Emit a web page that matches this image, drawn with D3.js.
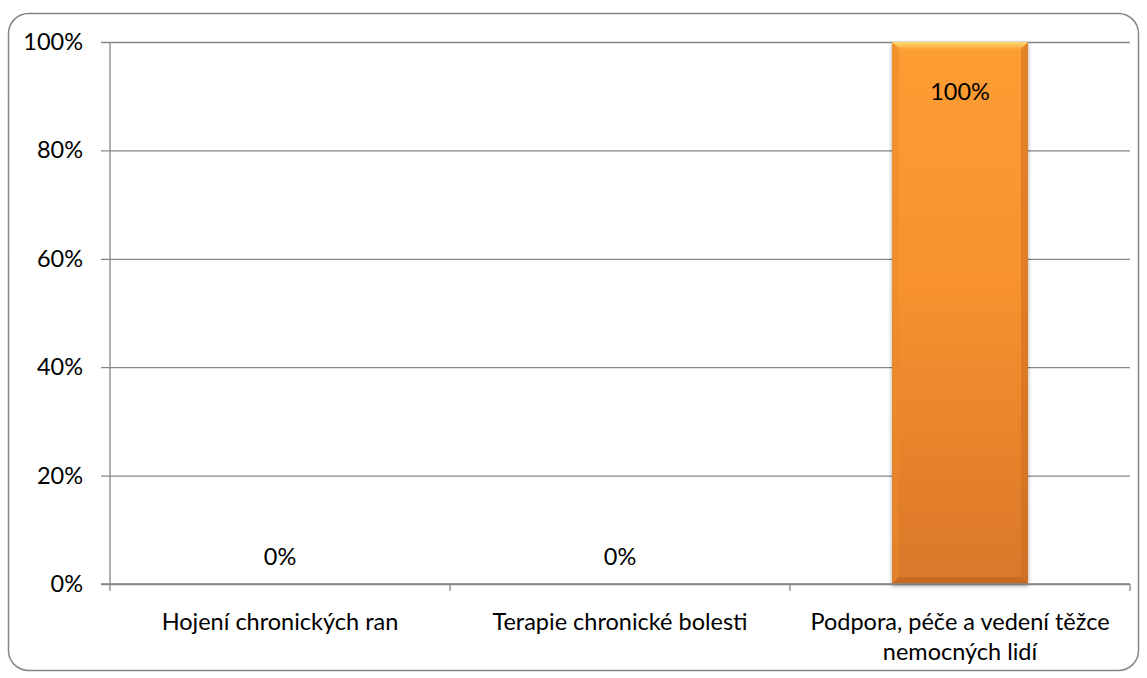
<!DOCTYPE html>
<html>
<head>
<meta charset="utf-8">
<script src="https://cdn.jsdelivr.net/npm/d3@7"></script>
<style>
  html, body { margin: 0; padding: 0; background: #fff; }
  svg { display: block; }
  text { font-family: Lato, "Open Sans", "Liberation Sans", sans-serif; fill: #000; }
</style>
</head>
<body>
<svg id="chart" width="1147" height="678"></svg>
<script>
// Categories and their shares
const categories = [
  ["Hojení chronických ran"],
  ["Terapie chronické bolesti"],
  ["Podpora, péče a vedení těžce", "nemocných lidí"]
];
const values = [0, 0, 1];
const yTicks = [0, 0.2, 0.4, 0.6, 0.8, 1];

const FS = 23.5;
const svg = d3.select("#chart");
const plot = { left: 110, right: 1130, top: 42, bottom: 584 };

// Outer chart frame
svg.append("rect")
  .attr("x", 8.5).attr("y", 13.5)
  .attr("width", 1130).attr("height", 657)
  .attr("rx", 20).attr("ry", 20)
  .attr("fill", "#fff").attr("stroke", "#868686").attr("stroke-width", 1.5);

const x = d3.scaleBand().domain(d3.range(categories.length))
  .range([plot.left, plot.right]).paddingInner(0.6).paddingOuter(0.3);
const xEdge = d3.scaleLinear().domain([0, categories.length]).range([plot.left, plot.right]);
const y = d3.scaleLinear().domain([0, 1]).range([plot.bottom, plot.top]);

const defs = svg.append("defs");
const grad = defs.append("linearGradient").attr("id", "barFill")
  .attr("x1", 0).attr("y1", 0).attr("x2", 0).attr("y2", 1);
grad.append("stop").attr("offset", "0%").attr("stop-color", "#FD9D32");
grad.append("stop").attr("offset", "45%").attr("stop-color", "#F7922E");
grad.append("stop").attr("offset", "100%").attr("stop-color", "#DA772A");

const topGrad = defs.append("linearGradient").attr("id", "topBevel")
  .attr("x1", 0).attr("y1", 0).attr("x2", 0).attr("y2", 1);
topGrad.append("stop").attr("offset", "0%").attr("stop-color", "#FFE07A");
topGrad.append("stop").attr("offset", "100%").attr("stop-color", "#FBA53C");

const shadow = defs.append("filter").attr("id", "barShadow")
  .attr("x", "-10%").attr("y", "-5%").attr("width", "120%").attr("height", "110%");
shadow.append("feDropShadow").attr("dx", 0).attr("dy", 2).attr("stdDeviation", 2)
  .attr("flood-color", "#000").attr("flood-opacity", 0.35);

// Horizontal gridlines with outward ticks
const yAxis = d3.axisLeft(y).tickValues(yTicks)
  .tickFormat(d3.format(".0%"))
  .tickSize(-(plot.right - plot.left)).tickPadding(27);
const gy = svg.append("g").attr("transform", `translate(${plot.left},0)`).call(yAxis);
gy.select(".domain").remove();
gy.selectAll(".tick line").attr("stroke", "#868686").attr("stroke-width", 1.3)
  .attr("x1", -9);
gy.selectAll(".tick text").attr("font-size", FS)
  .style("font-family", "Lato, 'Open Sans', sans-serif");

// Vertical axis line
svg.append("line")
  .attr("x1", plot.left).attr("x2", plot.left)
  .attr("y1", plot.top).attr("y2", plot.bottom)
  .attr("stroke", "#868686").attr("stroke-width", 1.3);

// Category boundary ticks
svg.append("g").selectAll("line").data(d3.range(categories.length + 1)).join("line")
  .attr("x1", d => xEdge(d)).attr("x2", d => xEdge(d))
  .attr("y1", plot.bottom).attr("y2", plot.bottom + 7)
  .attr("stroke", "#868686").attr("stroke-width", 1.3);

// Bars with bevelled edges
const bars = svg.append("g");
values.forEach((v, i) => {
  if (v <= 0) return;
  const bx = x(i), bw = x.bandwidth(), by = y(v), bh = y(0) - y(v);
  const b = 7;
  const g = bars.append("g");
  g.append("rect").attr("x", bx).attr("y", by).attr("width", bw).attr("height", bh)
    .attr("fill", "url(#barFill)").attr("filter", "url(#barShadow)");
  g.append("path").attr("d", `M${bx},${by}L${bx + bw},${by}L${bx + bw - b},${by + b}L${bx + b},${by + b}Z`)
    .attr("fill", "url(#topBevel)").attr("opacity", 0.9);
  g.append("path").attr("d", `M${bx},${by}L${bx + b},${by + b}L${bx + b},${by + bh - b}L${bx},${by + bh}Z`)
    .attr("fill", "#E98A2A").attr("opacity", 0.55);
  g.append("path").attr("d", `M${bx + bw},${by}L${bx + bw - b},${by + b}L${bx + bw - b},${by + bh - b}L${bx + bw},${by + bh}Z`)
    .attr("fill", "#C86A1E").attr("opacity", 0.5);
  g.append("path").attr("d", `M${bx},${by + bh}L${bx + b},${by + bh - b}L${bx + bw - b},${by + bh - b}L${bx + bw},${by + bh}Z`)
    .attr("fill", "#B85F1C").attr("opacity", 0.55);
});

// Baseline over the bars
svg.append("line")
  .attr("x1", plot.left - 9).attr("x2", plot.right)
  .attr("y1", plot.bottom).attr("y2", plot.bottom)
  .attr("stroke", "#868686").attr("stroke-width", 1.3);

// Value labels
svg.append("g").selectAll("text").data(values).join("text")
  .attr("x", (d, i) => x(i) + x.bandwidth() / 2)
  .attr("y", d => d > 0 ? y(d) + 50 : y(d) - 27)
  .attr("dy", "0.35em")
  .attr("text-anchor", "middle").attr("font-size", FS)
  .text(d => d3.format(".0%")(d));

// Category labels
svg.append("g").selectAll("text").data(categories).join("text")
  .attr("x", (d, i) => x(i) + x.bandwidth() / 2)
  .attr("y", plot.bottom + 38)
  .attr("text-anchor", "middle").attr("font-size", FS)
  .each(function (lines) {
    const t = d3.select(this);
    t.selectAll("tspan").data(lines).join("tspan")
      .attr("x", t.attr("x"))
      .attr("dy", (d, j) => j === 0 ? "0.35em" : 30)
      .text(d => d);
  });
</script>
</body>
</html>
